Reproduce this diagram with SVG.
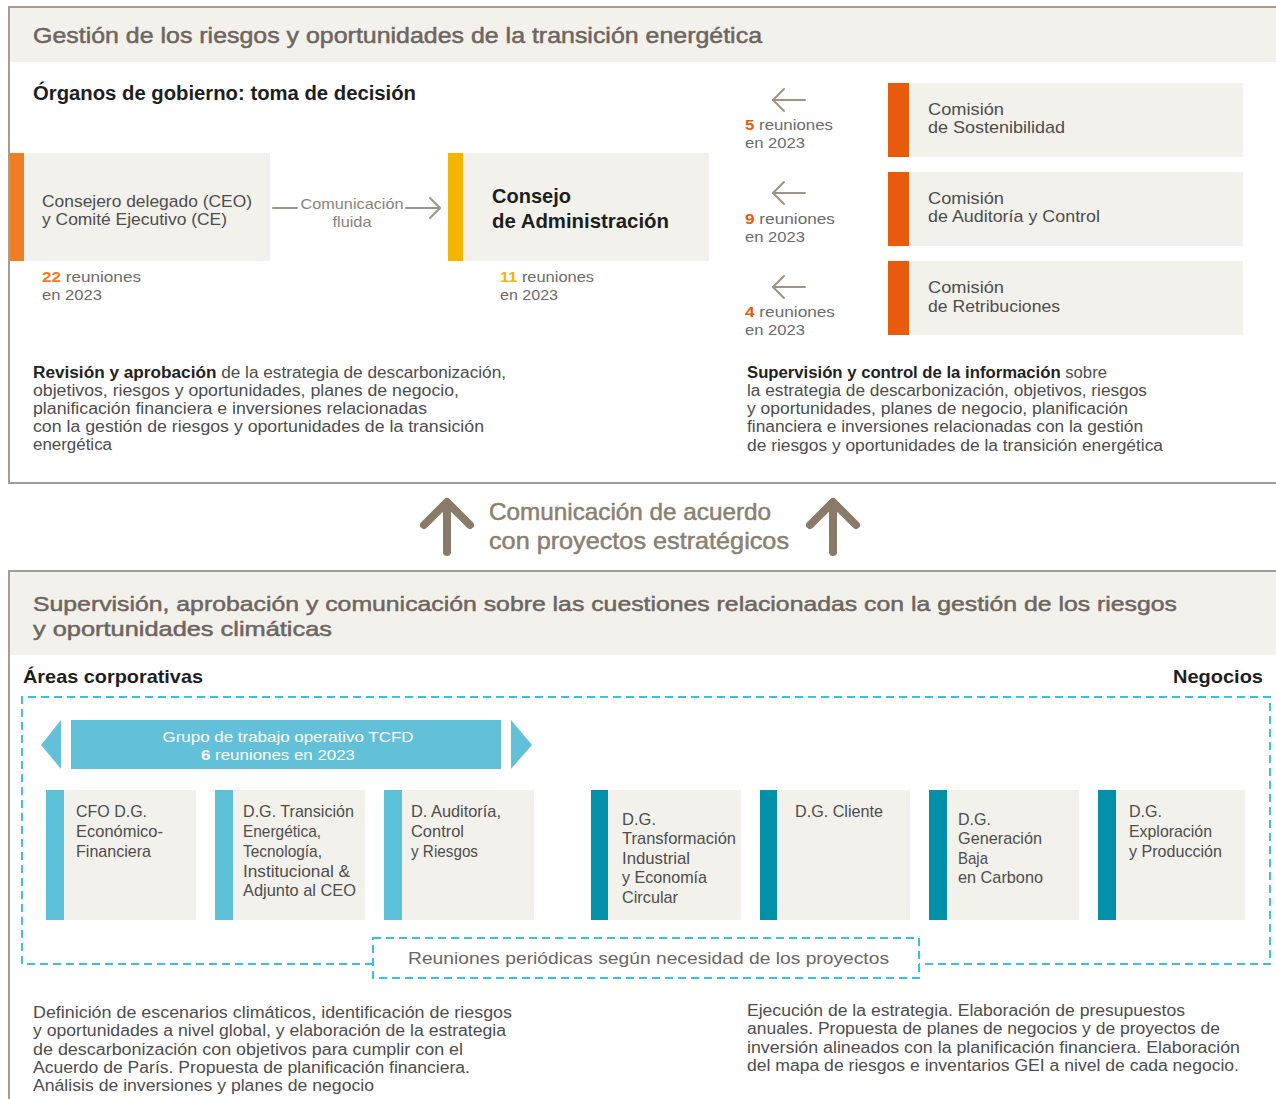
<svg xmlns="http://www.w3.org/2000/svg" width="1276" height="1099" viewBox="0 0 1276 1099">
<style>
.panel{fill:none;stroke:#a39d96;stroke-width:2}
.band{fill:#f3f1ec}
.box{fill:#f3f1ec}
.ttl{font-family:"Liberation Sans",Arial,sans-serif;fill:#6e6560;stroke:#6e6560;stroke-width:0.5}
.hd{font-family:"Liberation Sans",Arial,sans-serif;font-weight:bold;fill:#1e1e1e}
.bt{font-family:"Liberation Sans",Arial,sans-serif;fill:#4d4d4d}
.lt{font-family:"Liberation Sans",Arial,sans-serif;fill:#6b6b6b}
.mt{font-family:"Liberation Sans",Arial,sans-serif;fill:#8c8279}
.bx{font-family:"Liberation Sans",Arial,sans-serif;fill:#4d4d4d;font-size:17px}
.b{font-weight:bold}
.thin{fill:none;stroke:#a09585;stroke-width:2;stroke-linecap:round;stroke-linejoin:round}
.thick{fill:none;stroke:#8a7b69;stroke-width:8;stroke-linecap:round;stroke-linejoin:round}
.dash{fill:none;stroke:#3cc0e0;stroke-width:2;stroke-dasharray:8 5}
.cbar{fill:#5cc0d8}
.dbar{fill:#0090a8}
</style>

<!-- panels -->
<rect class="panel" x="9" y="7" width="1290" height="476"/>
<rect class="band" x="10" y="8" width="1266" height="54"/>
<text class="ttl" x="33" y="43" font-size="22" textLength="729" lengthAdjust="spacingAndGlyphs">Gestión de los riesgos y oportunidades de la transición energética</text>
<text class="hd" x="33" y="100" font-size="20" textLength="383" lengthAdjust="spacingAndGlyphs">Órganos de gobierno: toma de decisión</text>

<rect class="panel" x="9" y="571" width="1290" height="600"/>
<rect class="band" x="10" y="572" width="1266" height="83"/>
<text class="ttl" x="33" y="611" font-size="21" textLength="1144" lengthAdjust="spacingAndGlyphs">Supervisión, aprobación y comunicación sobre las cuestiones relacionadas con la gestión de los riesgos</text>
<text class="ttl" x="33" y="636" font-size="21" textLength="299" lengthAdjust="spacingAndGlyphs">y oportunidades climáticas</text>
<text class="hd" x="23" y="683" font-size="19" textLength="180" lengthAdjust="spacingAndGlyphs">Áreas corporativas</text>
<text class="hd" x="1173" y="683" font-size="19" textLength="90" lengthAdjust="spacingAndGlyphs">Negocios</text>

<!-- governance nodes -->
<g id="ceo">
<rect x="10" y="153" width="14" height="108" fill="#f07d22"/>
<rect class="box" x="24" y="153" width="246" height="108"/>
<text class="bt" x="42" y="207" font-size="17" textLength="210" lengthAdjust="spacingAndGlyphs">Consejero delegado (CEO)</text>
<text class="bt" x="42" y="225" font-size="17" textLength="185" lengthAdjust="spacingAndGlyphs">y Comité Ejecutivo (CE)</text>
<text class="lt" x="42" y="282" font-size="15" textLength="99" lengthAdjust="spacingAndGlyphs"><tspan fill="#f07d22" font-weight="bold">22</tspan> reuniones</text>
<text class="lt" x="42" y="300" font-size="15" textLength="60" lengthAdjust="spacingAndGlyphs">en 2023</text>
</g>
<g id="consejo">
<rect x="448" y="153" width="15" height="108" fill="#f5b400"/>
<rect class="box" x="463" y="153" width="246" height="108"/>
<text class="hd" x="492" y="203" font-size="21" textLength="79" lengthAdjust="spacingAndGlyphs">Consejo</text>
<text class="hd" x="492" y="228" font-size="21" textLength="177" lengthAdjust="spacingAndGlyphs">de Administración</text>
<text class="lt" x="500" y="282" font-size="15" textLength="94" lengthAdjust="spacingAndGlyphs"><tspan fill="#f5b400" font-weight="bold">11</tspan> reuniones</text>
<text class="lt" x="500" y="300" font-size="15" textLength="58" lengthAdjust="spacingAndGlyphs">en 2023</text>
</g>
<g id="com-sostenibilidad">
<rect x="888" y="83" width="21" height="74" fill="#e85a0c"/>
<rect class="box" x="909" y="83" width="334" height="74"/>
<text class="bt" x="928" y="115" font-size="17" textLength="76" lengthAdjust="spacingAndGlyphs">Comisión</text>
<text class="bt" x="928" y="133" font-size="17" textLength="137" lengthAdjust="spacingAndGlyphs">de Sostenibilidad</text>
</g>
<g id="com-auditoria">
<rect x="888" y="172" width="21" height="74" fill="#e85a0c"/>
<rect class="box" x="909" y="172" width="334" height="74"/>
<text class="bt" x="928" y="204" font-size="17" textLength="76" lengthAdjust="spacingAndGlyphs">Comisión</text>
<text class="bt" x="928" y="222" font-size="17" textLength="172" lengthAdjust="spacingAndGlyphs">de Auditoría y Control</text>
</g>
<g id="com-retribuciones">
<rect x="888" y="261" width="21" height="74" fill="#e85a0c"/>
<rect class="box" x="909" y="261" width="334" height="74"/>
<text class="bt" x="928" y="293" font-size="17" textLength="76" lengthAdjust="spacingAndGlyphs">Comisión</text>
<text class="bt" x="928" y="312" font-size="17" textLength="132" lengthAdjust="spacingAndGlyphs">de Retribuciones</text>
</g>

<g id="meeting-labels">
<text class="lt" x="745" y="130" font-size="15" textLength="88" lengthAdjust="spacingAndGlyphs"><tspan fill="#e85a0c" font-weight="bold">5</tspan> reuniones</text>
<text class="lt" x="745" y="148" font-size="15" textLength="60" lengthAdjust="spacingAndGlyphs">en 2023</text>
<text class="lt" x="745" y="224" font-size="15" textLength="90" lengthAdjust="spacingAndGlyphs"><tspan fill="#e85a0c" font-weight="bold">9</tspan> reuniones</text>
<text class="lt" x="745" y="242" font-size="15" textLength="60" lengthAdjust="spacingAndGlyphs">en 2023</text>
<text class="lt" x="745" y="317" font-size="15" textLength="90" lengthAdjust="spacingAndGlyphs"><tspan fill="#e85a0c" font-weight="bold">4</tspan> reuniones</text>
<text class="lt" x="745" y="335" font-size="15" textLength="60" lengthAdjust="spacingAndGlyphs">en 2023</text>
</g>

<g id="desc-left">
<text class="bt" x="33" y="378" font-size="16" textLength="473" lengthAdjust="spacingAndGlyphs"><tspan class="b" fill="#222">Revisión y aprobación</tspan> de la estrategia de descarbonización,</text>
<text class="bt" x="33" y="396" font-size="16" textLength="426" lengthAdjust="spacingAndGlyphs">objetivos, riesgos y oportunidades, planes de negocio,</text>
<text class="bt" x="33" y="414" font-size="16" textLength="394" lengthAdjust="spacingAndGlyphs">planificación financiera e inversiones relacionadas</text>
<text class="bt" x="33" y="432" font-size="16" textLength="451" lengthAdjust="spacingAndGlyphs">con la gestión de riesgos y oportunidades de la transición</text>
<text class="bt" x="33" y="450" font-size="16" textLength="79" lengthAdjust="spacingAndGlyphs">energética</text>
</g>
<g id="desc-right">
<text class="bt" x="747" y="378" font-size="16" textLength="360" lengthAdjust="spacingAndGlyphs"><tspan class="b" fill="#222">Supervisión y control de la información</tspan> sobre</text>
<text class="bt" x="747" y="396" font-size="16" textLength="400" lengthAdjust="spacingAndGlyphs">la estrategia de descarbonización, objetivos, riesgos</text>
<text class="bt" x="747" y="414" font-size="16" textLength="381" lengthAdjust="spacingAndGlyphs">y oportunidades, planes de negocio, planificación</text>
<text class="bt" x="747" y="432" font-size="16" textLength="396" lengthAdjust="spacingAndGlyphs">financiera e inversiones relacionadas con la gestión</text>
<text class="bt" x="747" y="451" font-size="16" textLength="416" lengthAdjust="spacingAndGlyphs">de riesgos y oportunidades de la transición energética</text>
</g>

<!-- middle communication -->
<g id="comm-label">
<text class="ttl" x="489" y="520" font-size="24" style="fill:#8c7f70;stroke:#8c7f70" textLength="282" lengthAdjust="spacingAndGlyphs">Comunicación de acuerdo</text>
<text class="ttl" x="489" y="549" font-size="24" style="fill:#8c7f70;stroke:#8c7f70" textLength="300" lengthAdjust="spacingAndGlyphs">con proyectos estratégicos</text>
</g>

<!-- connectors -->
<g id="connectors">
<line class="thin" x1="273" y1="208" x2="297" y2="208"/>
<line class="thin" x1="406" y1="208" x2="440" y2="208"/>
<polyline class="thin" points="430,198 440,208 430,218"/>
<text class="mt" x="352" y="209" font-size="15" text-anchor="middle" textLength="103" lengthAdjust="spacingAndGlyphs">Comunicación</text>
<text class="mt" x="352" y="227" font-size="15" text-anchor="middle" textLength="39" lengthAdjust="spacingAndGlyphs">fluida</text>
<line class="thin" x1="773" y1="100" x2="805" y2="100"/>
<polyline class="thin" points="784,89 773,100 784,111"/>
<line class="thin" x1="773" y1="193" x2="805" y2="193"/>
<polyline class="thin" points="784,182 773,193 784,204"/>
<line class="thin" x1="773" y1="287" x2="805" y2="287"/>
<polyline class="thin" points="784,276 773,287 784,298"/>
<line class="thick" x1="447" y1="552" x2="447" y2="504"/>
<polyline class="thick" points="424,525 447,502 470,525"/>
<line class="thick" x1="833" y1="552" x2="833" y2="504"/>
<polyline class="thick" points="810,525 833,502 856,525"/>
<path class="dash" d="M373,964 H22 V697 H1270 V964 H919"/>
<rect class="dash" x="373" y="938" width="546" height="40"/>
</g>

<!-- bottom nodes -->
<g id="tcfd">
<rect x="71" y="720" width="430" height="49" fill="#62c1d9"/>
<polygon points="61,720 61,769 41,745" fill="#62c1d9"/>
<polygon points="511,720 511,769 532,745" fill="#62c1d9"/>
<text x="288" y="742" font-size="15" font-family="Liberation Sans, Arial, sans-serif" fill="#ffffff" text-anchor="middle" textLength="251" lengthAdjust="spacingAndGlyphs">Grupo de trabajo operativo TCFD</text>
<text x="278" y="760" font-size="15" font-family="Liberation Sans, Arial, sans-serif" fill="#ffffff" text-anchor="middle" textLength="154" lengthAdjust="spacingAndGlyphs"><tspan font-weight="bold">6</tspan> reuniones en 2023</text>
</g>
<g id="cfo">
<rect class="cbar" x="46" y="790" width="18" height="130"/>
<rect class="box" x="64" y="790" width="132" height="130"/>
<text class="bx" x="76" y="817" textLength="71" lengthAdjust="spacingAndGlyphs">CFO D.G.</text>
<text class="bx" x="76" y="837" textLength="87" lengthAdjust="spacingAndGlyphs">Económico-</text>
<text class="bx" x="76" y="857" textLength="75" lengthAdjust="spacingAndGlyphs">Financiera</text>
</g>
<g id="dg-transicion">
<rect class="cbar" x="215" y="790" width="18" height="130"/>
<rect class="box" x="233" y="790" width="132" height="130"/>
<text class="bx" x="243" y="817" textLength="111" lengthAdjust="spacingAndGlyphs">D.G. Transición</text>
<text class="bx" x="243" y="837" textLength="78" lengthAdjust="spacingAndGlyphs">Energética,</text>
<text class="bx" x="243" y="857" textLength="79" lengthAdjust="spacingAndGlyphs">Tecnología,</text>
<text class="bx" x="243" y="877" textLength="107" lengthAdjust="spacingAndGlyphs">Institucional &amp;</text>
<text class="bx" x="243" y="896" textLength="113" lengthAdjust="spacingAndGlyphs">Adjunto al CEO</text>
</g>
<g id="d-auditoria">
<rect class="cbar" x="384" y="790" width="18" height="130"/>
<rect class="box" x="402" y="790" width="132" height="130"/>
<text class="bx" x="411" y="817" textLength="90" lengthAdjust="spacingAndGlyphs">D. Auditoría,</text>
<text class="bx" x="411" y="837" textLength="53" lengthAdjust="spacingAndGlyphs">Control</text>
<text class="bx" x="411" y="857" textLength="67" lengthAdjust="spacingAndGlyphs">y Riesgos</text>
</g>
<g id="dg-transformacion">
<rect class="dbar" x="591" y="790" width="17" height="130"/>
<rect class="box" x="608" y="790" width="133" height="130"/>
<text class="bx" x="622" y="825" textLength="34" lengthAdjust="spacingAndGlyphs">D.G.</text>
<text class="bx" x="622" y="844" textLength="114" lengthAdjust="spacingAndGlyphs">Transformación</text>
<text class="bx" x="622" y="864" textLength="68" lengthAdjust="spacingAndGlyphs">Industrial</text>
<text class="bx" x="622" y="883" textLength="85" lengthAdjust="spacingAndGlyphs">y Economía</text>
<text class="bx" x="622" y="903" textLength="56" lengthAdjust="spacingAndGlyphs">Circular</text>
</g>
<g id="dg-cliente">
<rect class="dbar" x="760" y="790" width="17" height="130"/>
<rect class="box" x="777" y="790" width="133" height="130"/>
<text class="bx" x="795" y="817" textLength="88" lengthAdjust="spacingAndGlyphs">D.G. Cliente</text>
</g>
<g id="dg-generacion">
<rect class="dbar" x="929" y="790" width="18" height="130"/>
<rect class="box" x="947" y="790" width="132" height="130"/>
<text class="bx" x="958" y="825" textLength="33" lengthAdjust="spacingAndGlyphs">D.G.</text>
<text class="bx" x="958" y="844" textLength="84" lengthAdjust="spacingAndGlyphs">Generación</text>
<text class="bx" x="958" y="864" textLength="30" lengthAdjust="spacingAndGlyphs">Baja</text>
<text class="bx" x="958" y="883" textLength="85" lengthAdjust="spacingAndGlyphs">en Carbono</text>
</g>
<g id="dg-exploracion">
<rect class="dbar" x="1098" y="790" width="18" height="130"/>
<rect class="box" x="1116" y="790" width="129" height="130"/>
<text class="bx" x="1129" y="817" textLength="33" lengthAdjust="spacingAndGlyphs">D.G.</text>
<text class="bx" x="1129" y="837" textLength="83" lengthAdjust="spacingAndGlyphs">Exploración</text>
<text class="bx" x="1129" y="857" textLength="93" lengthAdjust="spacingAndGlyphs">y Producción</text>
</g>
<g id="reuniones-periodicas">
<text class="lt" x="408" y="964" font-size="17" style="fill:#6e6560" textLength="481" lengthAdjust="spacingAndGlyphs">Reuniones periódicas según necesidad de los proyectos</text>
</g>

<g id="desc-bottom-left">
<text class="bt" x="33" y="1018" font-size="16" textLength="479" lengthAdjust="spacingAndGlyphs">Definición de escenarios climáticos, identificación de riesgos</text>
<text class="bt" x="33" y="1036" font-size="16" textLength="473" lengthAdjust="spacingAndGlyphs">y oportunidades a nivel global, y elaboración de la estrategia</text>
<text class="bt" x="33" y="1055" font-size="16" textLength="430" lengthAdjust="spacingAndGlyphs">de descarbonización con objetivos para cumplir con el</text>
<text class="bt" x="33" y="1073" font-size="16" textLength="437" lengthAdjust="spacingAndGlyphs">Acuerdo de París. Propuesta de planificación financiera.</text>
<text class="bt" x="33" y="1091" font-size="16" textLength="341" lengthAdjust="spacingAndGlyphs">Análisis de inversiones y planes de negocio</text>
</g>
<g id="desc-bottom-right">
<text class="bt" x="747" y="1016" font-size="16" textLength="438" lengthAdjust="spacingAndGlyphs">Ejecución de la estrategia. Elaboración de presupuestos</text>
<text class="bt" x="747" y="1034" font-size="16" textLength="473" lengthAdjust="spacingAndGlyphs">anuales. Propuesta de planes de negocios y de proyectos de</text>
<text class="bt" x="747" y="1053" font-size="16" textLength="493" lengthAdjust="spacingAndGlyphs">inversión alineados con la planificación financiera. Elaboración</text>
<text class="bt" x="747" y="1071" font-size="16" textLength="492" lengthAdjust="spacingAndGlyphs">del mapa de riesgos e inventarios GEI a nivel de cada negocio.</text>
</g>
</svg>
